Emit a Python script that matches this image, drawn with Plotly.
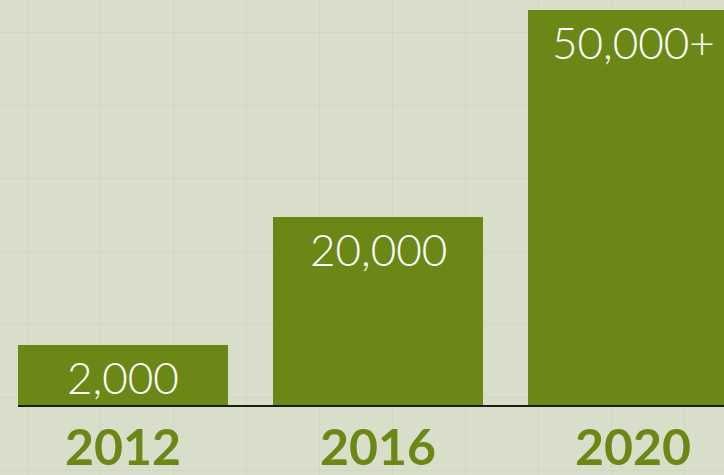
import plotly.graph_objects as go

# Data
years = ["2012", "2016", "2020"]
value_labels = ["2,000", "20,000", "50,000+"]
# Bar heights as drawn in the chart (not proportional to labels; visual scale units)
bar_heights = [60, 188, 395]

BAR_COLOR = "#6b8817"
BG_COLOR = "#d9decb"

fig = go.Figure()

# Background grid subplot (page-sized linear axes)
fig.add_trace(go.Scatter(x=[0], y=[0], mode="markers", marker=dict(opacity=0),
                         hoverinfo="skip", showlegend=False, xaxis="x", yaxis="y"))

positions = list(range(len(years)))
fig.add_trace(go.Bar(
    x=positions, y=bar_heights, marker=dict(color=BAR_COLOR, line=dict(width=0)),
    width=0.8235, showlegend=False, hoverinfo="skip", xaxis="x2", yaxis="y2",
))

annotations = []
for i, (h, lab) in enumerate(zip(bar_heights, value_labels)):
    annotations.append(dict(
        x=i, y=h, xref="x2", yref="y2", text=lab, showarrow=False,
        yanchor="top", yshift=-4,
        font=dict(family="Lato", size=44, color="white", weight=300),
    ))

fig.update_layout(
    width=724, height=475,
    margin=dict(l=0, r=0, t=0, b=0, autoexpand=False),
    paper_bgcolor=BG_COLOR, plot_bgcolor="rgba(0,0,0,0)",
    xaxis=dict(domain=[0, 1], range=[0, 724], tick0=27, dtick=73, showgrid=True,
               gridcolor="rgba(150,160,135,0.13)", gridwidth=1, zeroline=False,
               showticklabels=False, fixedrange=True),
    yaxis=dict(domain=[0, 1], range=[475, 0], tick0=32, dtick=73, showgrid=True,
               gridcolor="rgba(150,160,135,0.13)", gridwidth=1, zeroline=False,
               showticklabels=False, fixedrange=True),
    xaxis2=dict(domain=[18 / 724, 1], anchor="y2", range=[-0.41176, 2.35686],
                tickmode="array", tickvals=positions, ticktext=years,
                showline=True, linecolor="#1c1c14", linewidth=2,
                showgrid=False, zeroline=False, ticks="", automargin=False,
                tickfont=dict(family="Lato", size=50, color=BAR_COLOR, weight="bold"),
                ticklabelstandoff=-2),
    yaxis2=dict(domain=[70 / 475, 1], anchor="x2", range=[0, 405], showgrid=False,
                zeroline=False, showticklabels=False, showline=False, automargin=False),
    annotations=annotations,
    bargap=0,
)

fig.write_html("out.html", config={"displayModeBar": False},
               post_script="document.body.style.margin='0';")
